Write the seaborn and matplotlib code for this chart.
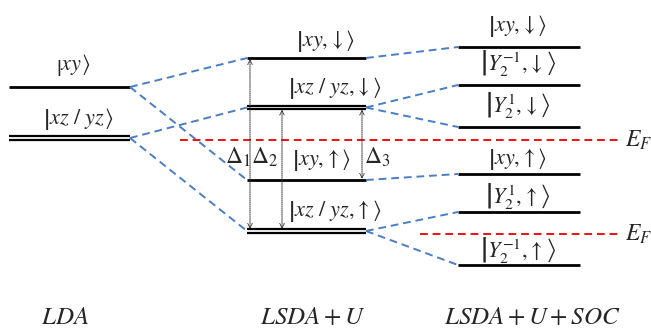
import matplotlib
matplotlib.use("Agg")
import matplotlib.pyplot as plt
import seaborn as sns
import numpy as np

sns.set_theme(style="white")
plt.rcParams['mathtext.fontset'] = 'stix'
plt.rcParams['font.family'] = ['Liberation Serif', 'DejaVu Serif']

# Columns: x-extent of each group of levels
col_names = ["LDA", "LSDA+U", "LSDA+U+SOC"]
col_x0 = [9, 247, 458]
col_x1 = [130, 366, 580]

S = r'^{\,}_{\,}\hspace{-0.2}'  # invisible scripts so the ket delimiters grow tall

# Level positions (vertical, in picture units, top = small)
lda_levels = [87, 138]
lda_double = [False, True]
lda_labels = [r'$\left|xy' + S + r'\right\rangle$', r'$\left|xz\ /\ yz' + S + r'\right\rangle$']

lsda_levels = [58, 107.5, 180, 231]
lsda_double = [False, True, False, True]
lsda_labels = [r'$\left|xy,\!\downarrow' + S + r'\right\rangle$',
               r'$\left|xz\ /\ yz,\!\downarrow' + S + r'\right\rangle$',
               r'$\left|xy,\!\uparrow' + S + r'\right\rangle$',
               r'$\left|xz\ /\ yz,\!\uparrow' + S + r'\right\rangle$']

soc_levels = [47, 85, 127, 174, 212, 265]
soc_labels = [r'$\left|xy,\!\downarrow' + S + r'\right\rangle$',
              r'$\left|Y_2^{-1},\!\downarrow\right\rangle$',
              r'$\left|Y_2^{1},\!\downarrow\right\rangle$',
              r'$\left|xy,\!\uparrow' + S + r'\right\rangle$',
              r'$\left|Y_2^{1},\!\uparrow\right\rangle$',
              r'$\left|Y_2^{-1},\!\uparrow\right\rangle$']

# Connections (index in left column -> index in right column)
lda_to_lsda = [(0, 0), (0, 2), (1, 1), (1, 3)]
lsda_to_soc = [(0, 0), (1, 1), (1, 2), (2, 3), (3, 4), (3, 5)]

fermi_levels = [140, 234]
fermi_x0 = [180, 420]

gap_names = [r'$\Delta_1$', r'$\Delta_2$', r'$\Delta_3$']
gap_from = [0, 1, 1]   # lsda level index
gap_to = [3, 3, 2]

fig = plt.figure(figsize=(6.51, 3.34), dpi=100)
ax = fig.add_axes([0, 0, 1, 1])
ax.set_xlim(0, 651)
ax.set_ylim(334, 0)
ax.axis('off')

def draw_level(x0, x1, y, double):
    if double:
        ax.hlines([y - 1.8, y + 1.8], x0, x1, color='black', lw=1.6)
    else:
        ax.hlines(y, x0, x1, color='black', lw=2.0)

for y, d in zip(lda_levels, lda_double):
    draw_level(col_x0[0], col_x1[0], y, d)
for y, d in zip(lsda_levels, lsda_double):
    draw_level(col_x0[1], col_x1[1], y, d)
for y in soc_levels:
    draw_level(col_x0[2], col_x1[2], y, False)

blue = '#4a7ec4'
for i, j in lda_to_lsda:
    ax.plot([col_x1[0], col_x0[1]], [lda_levels[i], lsda_levels[j]], color=blue,
            lw=1.4, ls=(0, (4, 2.5)))
for i, j in lsda_to_soc:
    ax.plot([col_x1[1], col_x0[2]], [lsda_levels[i], soc_levels[j]], color=blue,
            lw=1.4, ls=(0, (4, 2.5)))

for y, x0 in zip(fermi_levels, fermi_x0):
    ax.hlines(y, x0, 622, color='#ee1111', lw=1.4, linestyles=(0, (4, 2.5)))
    ax.text(625, y + 7, r'$E_F$', fontsize=17, va='baseline', ha='left')

# Gap arrows
gap_x = [250, 282, 362]
for gx, a, b in zip(gap_x, gap_from, gap_to):
    ya = lsda_levels[a] + (2 if lsda_double[a] else 1)
    yb = lsda_levels[b] - (2 if lsda_double[b] else 1)
    ax.annotate('', xy=(gx, yb), xytext=(gx, ya),
                arrowprops=dict(arrowstyle='<->', color='#333333', lw=0.7,
                                linestyle=(0, (1, 1)), mutation_scale=8,
                                shrinkA=0, shrinkB=0))
gap_lx = [238, 265, 377]
for name, lx in zip(gap_names, gap_lx):
    ax.text(lx, 157, name, fontsize=17, ha='center', va='center')

# Ket labels
fs = 16
lda_lx = [73, 78]
lda_ly = [65, 119]
for t, x, y in zip(lda_labels, lda_lx, lda_ly):
    ax.text(x, y, t, fontsize=fs, ha='center', va='center')
lsda_lx = [326, 335, 322, 335]
lsda_ly = [41, 88, 160, 211]
for t, x, y in zip(lsda_labels, lsda_lx, lsda_ly):
    ax.text(x, y, t, fontsize=fs, ha='center', va='center')
soc_ly = [26, 63, 105, 159, 196, 250]
for t, y in zip(soc_labels, soc_ly):
    ax.text(518, y, t, fontsize=fs, ha='center', va='center')

# Column titles
title_x = [65, 313, 532]
title_t = [r'$LDA$', r'$LSDA+U$', r'$LSDA+U+SOC$']
for t, x in zip(title_t, title_x):
    ax.text(x, 318, t, fontsize=18, ha='center', va='center')

fig.savefig('out.png', dpi=100)
